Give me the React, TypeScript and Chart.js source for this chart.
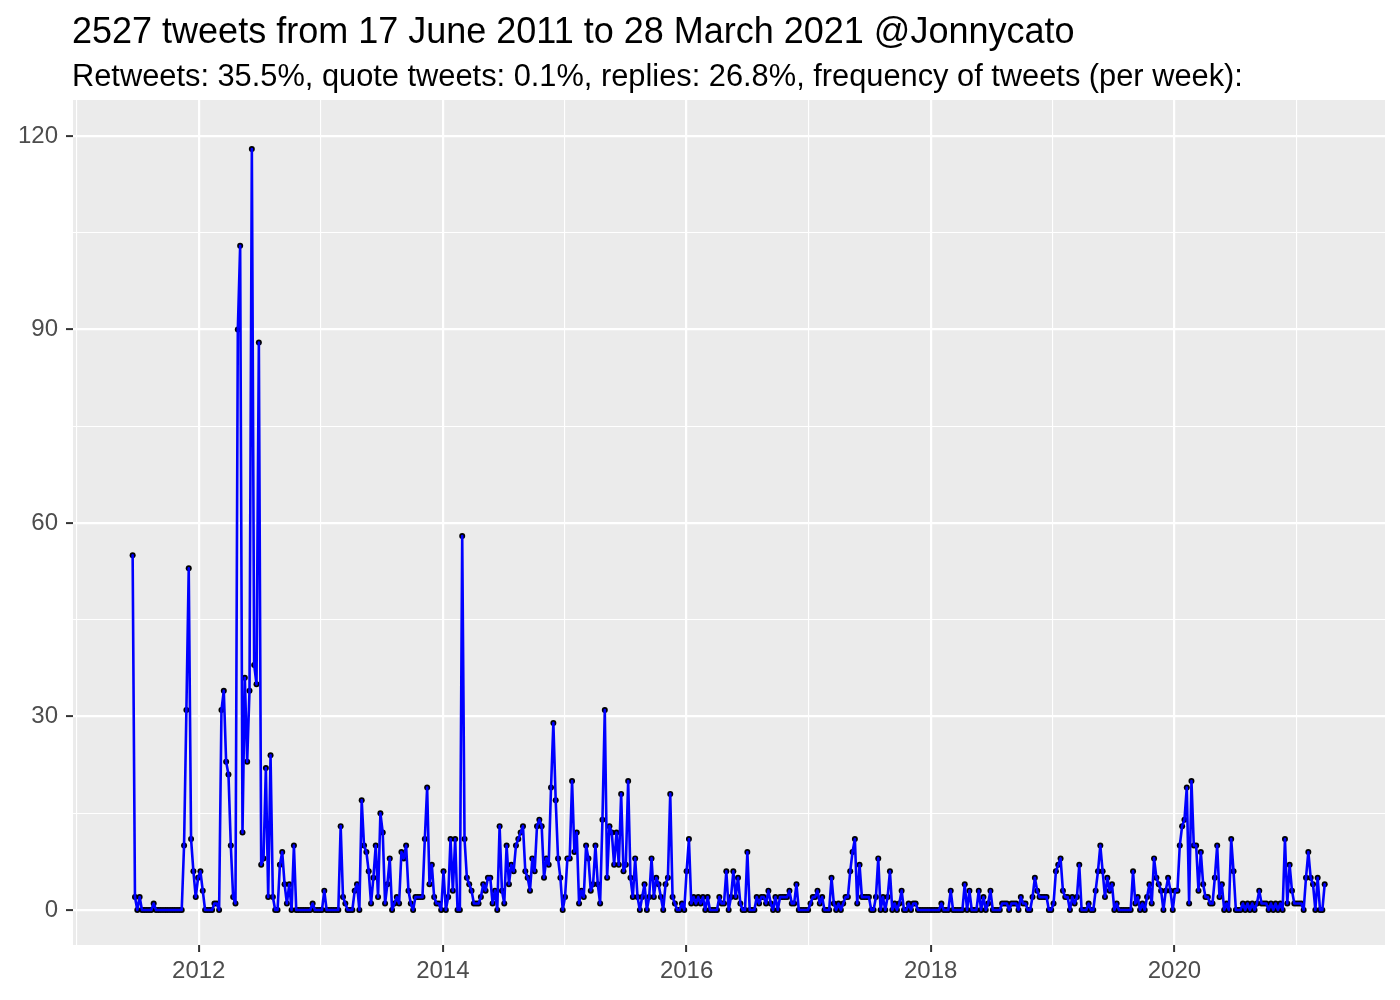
import React, { useEffect, useRef } from "react";
import { Chart, registerables } from "chart.js";

Chart.register(...registerables);

// Weekly tweet counts, starting the week of 17 June 2011
const START_DATE = Date.UTC(2011, 5, 17);
const END_DATE = Date.UTC(2021, 2, 28);
const WEEK_MS = 7 * 24 * 3600 * 1000;

const weeks2011to2012 = [55, 2, 0, 2, 0, 0, 0, 0, 0, 1, 0, 0, 0, 0, 0, 0, 0, 0, 0, 0, 0, 0, 10, 31, 53, 11, 6, 2, 5, 6, 3, 0, 0, 0, 0, 1, 1, 0, 31, 34, 23, 21, 10, 2, 1, 90, 103, 12, 36, 23, 34, 118, 38, 35, 88, 7, 8, 22, 2, 24, 2, 0, 0, 7, 9, 4, 1, 4, 0, 10, 0];
const weeks2013 = [0, 0, 0, 0, 0, 0, 1, 0, 0, 0, 0, 3, 0, 0, 0, 0, 0, 0, 13, 2, 1, 0, 0, 0, 3, 4, 0, 17, 10, 9, 6, 1, 5, 10, 2, 15, 12, 1, 4, 8, 0, 1, 2, 1, 9, 8, 10, 3, 1, 0];
const weeks2014 = [2, 2, 2, 2, 11, 19, 4, 7, 2, 1, 1, 0, 6, 0, 2, 11, 3, 11, 0, 0, 58, 11, 5, 4, 3, 1, 1, 1, 2, 4, 3, 5, 5, 1, 3, 0, 13, 3, 1, 10, 4, 7, 6, 10, 11, 12, 13, 6];
const weeks2015 = [5, 3, 8, 6, 13, 14, 13, 5, 8, 7, 19, 29, 17, 8, 5, 0, 2, 8, 8, 20, 9, 12, 1, 3, 2, 10, 8, 3, 4, 10, 4, 1, 14, 31, 5, 13, 12, 7, 12, 7, 18, 6, 7, 20, 5, 2, 8];
const weeks2016 = [2, 0, 2, 4, 0, 2, 8, 2, 5, 4, 2, 0, 4, 5, 18, 2, 1, 0, 0, 1, 0, 6, 11, 1, 2, 1, 2, 1, 2, 0, 2, 0, 0, 0, 0, 2, 1, 1, 6, 0, 2, 6, 2, 5, 1, 0];
const weeks2017 = [0, 9, 0, 0, 0, 2, 1, 2, 2, 1, 3, 1, 0, 2, 0, 2, 2, 2, 2, 3, 1, 1, 4, 0, 0, 0, 0, 0, 1, 2, 2, 3, 1, 2, 0, 0, 0, 5, 1, 0, 1, 0, 1, 2, 2, 6, 9, 11];
const weeks2018 = [1, 7, 2, 2, 2, 2, 0, 0, 2, 8, 0, 2, 0, 2, 6, 0, 1, 0, 1, 3, 0, 0, 1, 0, 1, 1, 0, 0, 0, 0, 0, 0, 0, 0, 0, 0, 1, 0, 0, 0, 3, 0, 0, 0, 0, 0, 4];
const weeks2019 = [0, 3, 0, 0, 0, 3, 0, 2, 0, 1, 3, 0, 0, 0, 0, 1, 1, 1, 0, 1, 1, 1, 0, 2, 1, 1, 0, 0, 2, 5, 3, 2, 2, 2, 2, 0, 0, 1, 6, 7, 8, 3, 2, 2, 0, 2, 1, 2, 7, 0];
const weeks2020to2021 = [0, 0, 1, 0, 0, 3, 6, 10, 6, 2, 5, 3, 4, 0, 1, 0, 0, 0, 0, 0, 0, 6, 1, 2, 0, 1, 0, 2, 4, 1, 8, 5, 4, 3, 0, 3, 5, 3, 0, 3, 3, 10, 13, 14, 19, 1, 20, 10, 10, 3, 9, 4, 2, 2, 1, 1, 5, 10, 2, 4, 0, 1, 0, 11, 6, 0, 0, 0, 1, 0, 1, 0, 1, 0, 1, 3, 1, 1, 1, 0, 1, 0, 1, 0, 1, 0, 11, 1, 7, 3, 1, 1, 1, 1, 0, 5, 9, 5, 4, 0, 5, 0, 0, 4];

const weeklyTweets = [
  ...weeks2011to2012, ...weeks2013, ...weeks2014, ...weeks2015, ...weeks2016,
  ...weeks2017, ...weeks2018, ...weeks2019, ...weeks2020to2021,
];

const yMajorTicks = [0, 30, 60, 90, 120];
const yMinorTicks = [15, 45, 75, 105];
const xMajorYears = [2012, 2014, 2016, 2018, 2020];
const xMinorYears = [2011, 2013, 2015, 2017, 2019, 2021];

const titleText = "2527 tweets from 17 June 2011 to 28 March 2021 @Jonnycato";
const subtitleText = "Retweets: 35.5%, quote tweets: 0.1%, replies: 26.8%, frequency of tweets (per week):";

const FONT = "'Liberation Sans', Arial, Helvetica, sans-serif";

export default function App() {
  const canvasRef = useRef<HTMLCanvasElement | null>(null);

  useEffect(() => {
    const canvas = canvasRef.current;
    if (!canvas) return;

    const points = weeklyTweets.map((v, i) => ({ x: START_DATE + i * WEEK_MS, y: v }));
    const span = END_DATE - START_DATE;
    const xMin = START_DATE - 0.05 * span;
    const xMax = END_DATE + 0.05 * span;

    const majorX = new Set(xMajorYears.map((y) => Date.UTC(y, 0, 1)));
    const majorY = new Set(yMajorTicks);

    const panelPlugin = {
      id: "panelPlugin",
      beforeDraw(chart: any) {
        const { ctx, chartArea: a } = chart;
        ctx.save();
        ctx.fillStyle = "#FFFFFF";
        ctx.fillRect(0, 0, chart.width, chart.height);
        ctx.fillStyle = "#EBEBEB";
        ctx.fillRect(a.left, a.top, a.right - a.left, a.bottom - a.top);
        ctx.restore();
      },
      afterDraw(chart: any) {
        const { ctx, chartArea: a } = chart;
        ctx.save();
        ctx.fillStyle = "#000000";
        ctx.textAlign = "left";
        ctx.textBaseline = "alphabetic";
        ctx.font = `36px ${FONT}`;
        ctx.fillText(titleText, a.left - 1, 43);
        ctx.font = `30.8px ${FONT}`;
        ctx.fillText(subtitleText, a.left - 1, 86);
        ctx.restore();
      },
    };

    const chart = new Chart(canvas, {
      type: "line",
      data: {
        datasets: [
          {
            label: "line",
            data: points,
            borderColor: "#0000FF",
            borderWidth: 2.6,
            borderJoinStyle: "round",
            borderCapStyle: "round",
            pointRadius: 0,
            tension: 0,
            fill: false,
            order: 1,
          },
          {
            label: "points",
            data: points,
            showLine: false,
            pointRadius: 3,
            pointBackgroundColor: "#000000",
            pointBorderWidth: 0,
            order: 2,
          },
        ],
      },
      plugins: [panelPlugin],
      options: {
        animation: false,
        responsive: false,
        maintainAspectRatio: false,
        layout: { padding: { top: 100, right: 15, left: 0, bottom: 0 } },
        plugins: {
          legend: { display: false },
          tooltip: { enabled: false },
          title: { display: false },
        },
        scales: {
          x: {
            type: "linear",
            min: xMin,
            max: xMax,
            border: { display: false },
            afterBuildTicks: (scale: any) => {
              scale.ticks = [...xMinorYears, ...xMajorYears]
                .sort((a, b) => a - b)
                .map((y) => ({ value: Date.UTC(y, 0, 1) }));
            },
            afterFit: (scale: any) => {
              scale.height = 55;
            },
            ticks: {
              autoSkip: false,
              maxRotation: 0,
              padding: 5,
              color: "#4D4D4D",
              font: { family: FONT, size: 24 },
              callback: (value: any) =>
                majorX.has(value) ? String(new Date(value).getUTCFullYear()) : "",
            },
            grid: {
              color: "#FFFFFF",
              lineWidth: (ctx: any) => (majorX.has(ctx.tick?.value) ? 2.2 : 1.1),
              tickColor: (ctx: any) => (majorX.has(ctx.tick?.value) ? "#333333" : "rgba(0,0,0,0)"),
              tickLength: 7,
              tickWidth: 2,
              drawTicks: true,
            },
          },
          y: {
            type: "linear",
            min: -5.43,
            max: 125.6,
            border: { display: false },
            afterBuildTicks: (scale: any) => {
              scale.ticks = [...yMajorTicks, ...yMinorTicks]
                .sort((a, b) => a - b)
                .map((v) => ({ value: v }));
            },
            afterFit: (scale: any) => {
              scale.width = 73;
            },
            ticks: {
              autoSkip: false,
              padding: 8,
              color: "#4D4D4D",
              font: { family: FONT, size: 24 },
              callback: (value: any) => (majorY.has(value) ? String(value) : ""),
            },
            grid: {
              color: "#FFFFFF",
              lineWidth: (ctx: any) => (majorY.has(ctx.tick?.value) ? 2.2 : 1.1),
              tickColor: (ctx: any) => (majorY.has(ctx.tick?.value) ? "#333333" : "rgba(0,0,0,0)"),
              tickLength: 7,
              tickWidth: 2,
              drawTicks: true,
            },
          },
        },
      },
    });

    return () => chart.destroy();
  }, []);

  return (
    <div style={{ position: "fixed", left: 0, top: 0, width: 1400, height: 1000, background: "#FFFFFF" }}>
      <canvas ref={canvasRef} width={1400} height={1000} style={{ width: 1400, height: 1000, display: "block" }} />
    </div>
  );
}
